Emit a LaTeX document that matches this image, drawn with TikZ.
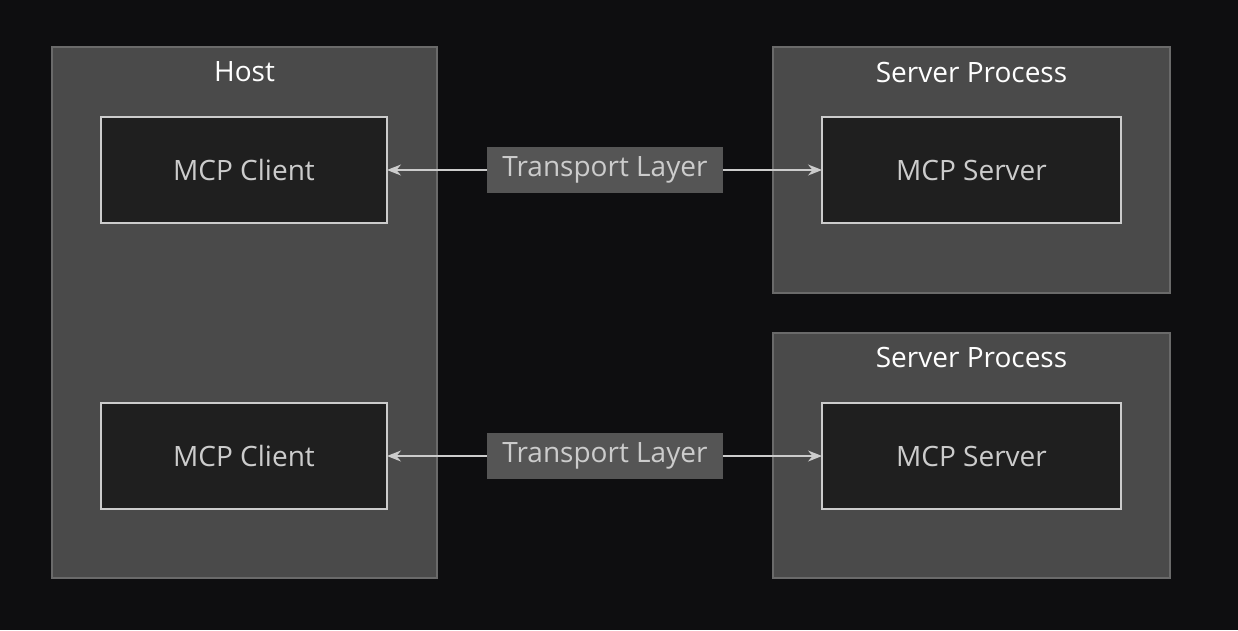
\documentclass[tikz,border=0pt]{standalone}
\usepackage{fontspec}
\setmainfont{Open Sans}
\usetikzlibrary{arrows.meta}
\definecolor{bg}{HTML}{0E0E10}
\definecolor{grp}{HTML}{4A4A4A}
\definecolor{grpb}{HTML}{6A6A6A}
\definecolor{nd}{HTML}{1F1F1F}
\definecolor{ndb}{HTML}{CCCCCC}
\definecolor{lab}{HTML}{555555}
\begin{document}
\begin{tikzpicture}[x=1pt,y=-1pt,
 grpbox/.style={fill=grp,draw=grpb,line width=1.2pt},
 ndbox/.style={fill=nd,draw=ndb,line width=1.5pt},
 txt/.style={text=ndb,font=\fontsize{28}{32}\selectfont},
 ttl/.style={text=white,font=\fontsize{28}{32}\selectfont},
 lbl/.style={fill=lab,text=ndb,font=\fontsize{28}{32}\selectfont,inner sep=0pt,minimum width=236pt,minimum height=46pt},
 conn/.style={draw=ndb,line width=1.3pt,-{Stealth[length=14pt,width=11pt]}}]
\fill[bg] (0,0) rectangle (1238,630);
\draw[grpbox] (52,47) rectangle (437,578);
\draw[grpbox] (773,47) rectangle (1170,293);
\draw[grpbox] (773,333) rectangle (1170,578);
\node[ttl] (th) at (244.5,72) {Host};
\node[ttl] (ts1) at (971.5,72) {Server Process};
\node[ttl] (ts2) at (971.5,357) {Server Process};
\draw[ndbox] (101,117) rectangle (387,223);
\node[txt] (c1) at (244,170) {MCP Client};
\coordinate (c1e) at (387,170);
\draw[ndbox] (101,403) rectangle (387,509);
\node[txt] (c2) at (244,456) {MCP Client};
\coordinate (c2e) at (387,456);
\draw[ndbox] (822,117) rectangle (1121,223);
\node[txt] (s1) at (971.5,170) {MCP Server};
\coordinate (s1w) at (822,170);
\draw[ndbox] (822,403) rectangle (1121,509);
\node[txt] (s2) at (971.5,456) {MCP Server};
\coordinate (s2w) at (822,456);
\node[lbl] (l1) at (605,170) {Transport Layer};
\node[lbl] (l2) at (605,456) {Transport Layer};
\draw[conn] (l1.west) -- (c1e);
\draw[conn] (l1.east) -- (s1w);
\draw[conn] (l2.west) -- (c2e);
\draw[conn] (l2.east) -- (s2w);
\end{tikzpicture}
\end{document}
